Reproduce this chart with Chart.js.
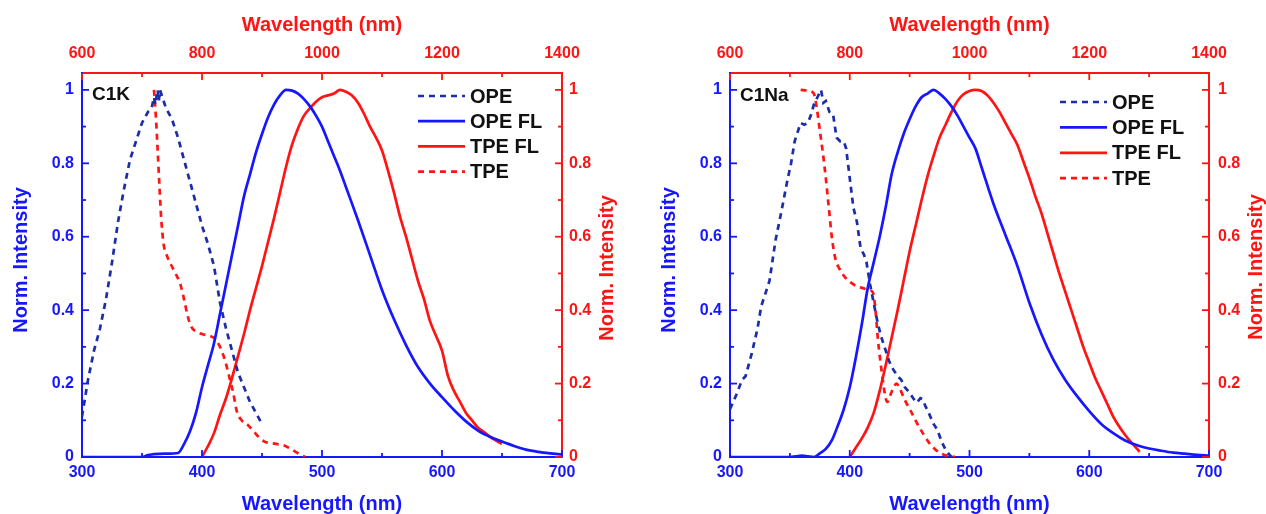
<!DOCTYPE html>
<html>
<head>
<meta charset="utf-8">
<script src="https://cdn.jsdelivr.net/npm/chart.js@4.4.0/dist/chart.umd.min.js"></script>
<style>
  html, body { margin: 0; padding: 0; background: #ffffff; }
  #wrap { position: relative; width: 1266px; height: 514px; overflow: hidden; }
  canvas { position: absolute; top: 0; }
</style>
</head>
<body>
<div id="wrap">
  <canvas id="chartK" width="633" height="514" style="left:0px"></canvas>
  <canvas id="chartNa" width="633" height="514" style="left:633px"></canvas>
</div>
<script>
// ---- Axis ticks -------------------------------------------------------
const bottomTicks = [300, 400, 500, 600, 700];        // one-photon wavelength (nm)
const topTicks = [600, 800, 1000, 1200, 1400];        // two-photon wavelength (nm)
const intensityTicks = [0, 0.2, 0.4, 0.6, 0.8, 1];
const seriesLabels = ['OPE', 'OPE FL', 'TPE FL', 'TPE'];
const panelNames = ['C1K', 'C1Na'];

// ---- C1K ---------------------------------------------------------------
const k_ope_nm = [300,305,310,315,320,325,330,335,340,345,350,355,358,360,361,363,364,365,367,370,375,380,385,390,395,400,405,410,415,420,425,430,435,440,445,450];
const k_ope_int = [0.11,0.21,0.29,0.35,0.43,0.53,0.64,0.73,0.81,0.86,0.91,0.94,0.95,0.98,0.96,1.0,0.97,1.0,0.98,0.95,0.92,0.87,0.81,0.75,0.69,0.63,0.58,0.52,0.42,0.35,0.29,0.23,0.19,0.15,0.12,0.09];

const k_opefl_nm = [300,350,355,360,370,380,385,390,395,400,405,410,415,420,425,430,435,440,445,450,455,460,465,470,475,480,485,490,495,500,505,510,515,520,530,540,550,560,570,580,590,600,610,620,630,640,650,660,670,680,690,700];
const k_opefl_int = [0,0,0.005,0.008,0.009,0.011,0.035,0.07,0.12,0.19,0.25,0.31,0.39,0.47,0.55,0.63,0.71,0.77,0.83,0.88,0.925,0.96,0.985,1.0,0.998,0.99,0.975,0.955,0.93,0.9,0.86,0.82,0.78,0.735,0.645,0.55,0.455,0.375,0.305,0.245,0.2,0.163,0.128,0.097,0.072,0.055,0.042,0.03,0.02,0.014,0.01,0.007];

const k_tpefl_nm = [800,810,820,830,840,850,860,870,880,890,900,910,920,930,940,950,960,970,980,990,1000,1010,1020,1030,1040,1050,1060,1070,1080,1090,1100,1110,1120,1130,1140,1150,1160,1170,1180,1190,1200,1210,1220,1230,1240,1250,1260,1270,1280,1290,1300];
const k_tpefl_int = [0,0.03,0.065,0.115,0.16,0.215,0.275,0.335,0.4,0.46,0.52,0.585,0.65,0.72,0.79,0.85,0.895,0.93,0.95,0.968,0.98,0.985,0.99,1.0,0.995,0.985,0.965,0.935,0.9,0.87,0.835,0.78,0.72,0.655,0.6,0.54,0.48,0.43,0.37,0.33,0.29,0.22,0.18,0.15,0.12,0.1,0.08,0.068,0.055,0.045,0.036];

const k_tpe_nm = [720,723,726,729,732,736,740,748,756,764,770,776,782,790,800,812,822,830,838,846,852,858,866,876,886,896,904,914,926,936,946,956,966,972];
const k_tpe_int = [1.0,0.93,0.84,0.74,0.65,0.58,0.555,0.525,0.5,0.47,0.43,0.385,0.355,0.342,0.335,0.33,0.322,0.3,0.265,0.215,0.175,0.125,0.1,0.088,0.07,0.052,0.042,0.038,0.035,0.032,0.024,0.014,0.005,0];

// ---- C1Na --------------------------------------------------------------
const na_ope_nm = [300,306,310,313,318,323,326,330,333,338,343,348,351,354,357,359,362,365,368,370,373,376,378,380,383,386,389,392,395,397,400,403,406,409,412,414,417,420,423,426,430,433,436,440,443,446,450,453,456,459,461,463,466,470,473,477,480,483,485];
const na_ope_int = [0.13,0.175,0.21,0.22,0.28,0.35,0.41,0.45,0.48,0.59,0.67,0.755,0.8,0.86,0.89,0.91,0.905,0.91,0.935,0.96,0.98,1.0,0.965,0.97,0.94,0.935,0.87,0.86,0.86,0.84,0.76,0.68,0.64,0.57,0.55,0.53,0.47,0.42,0.37,0.33,0.29,0.26,0.24,0.22,0.21,0.19,0.175,0.16,0.148,0.16,0.157,0.14,0.12,0.09,0.075,0.04,0.02,0.007,0];

const na_opefl_nm = [300,350,355,360,365,370,375,380,385,390,395,400,405,410,415,420,425,430,435,440,445,450,455,460,465,470,475,480,485,490,495,500,505,510,520,530,540,550,560,570,580,590,600,610,620,630,640,650,660,670,680,690,700];
const na_opefl_int = [0,0,0.002,0.004,0.002,0,0.01,0.022,0.045,0.085,0.13,0.19,0.27,0.36,0.46,0.53,0.6,0.68,0.77,0.83,0.88,0.92,0.955,0.98,0.99,1.0,0.99,0.975,0.955,0.93,0.9,0.87,0.84,0.79,0.69,0.605,0.52,0.42,0.335,0.265,0.21,0.165,0.125,0.09,0.065,0.045,0.032,0.023,0.017,0.012,0.009,0.006,0.004];

const na_tpefl_nm = [800,810,820,830,840,850,860,870,880,890,900,910,920,930,940,950,960,970,980,990,1000,1010,1020,1030,1040,1050,1060,1070,1080,1090,1100,1110,1120,1130,1140,1150,1160,1170,1180,1190,1200,1210,1220,1230,1240,1250,1260,1270,1280,1284];
const na_tpefl_int = [0,0.025,0.05,0.08,0.12,0.18,0.25,0.325,0.4,0.48,0.56,0.63,0.7,0.765,0.82,0.87,0.905,0.94,0.97,0.988,0.997,1.0,0.997,0.985,0.965,0.94,0.91,0.88,0.85,0.805,0.76,0.71,0.665,0.61,0.555,0.5,0.45,0.4,0.35,0.3,0.257,0.215,0.18,0.145,0.11,0.083,0.06,0.04,0.022,0.014];

const na_tpe_nm = [718,730,740,745,750,755,760,765,770,776,782,792,802,812,822,832,839,843,846,849,852,856,860,863,867,872,878,884,892,902,912,922,932,942,952,964,976];
const na_tpe_int = [1.0,0.998,0.99,0.95,0.89,0.83,0.76,0.68,0.6,0.54,0.515,0.49,0.475,0.465,0.46,0.455,0.447,0.4,0.34,0.29,0.25,0.2,0.16,0.15,0.165,0.185,0.2,0.185,0.155,0.125,0.093,0.065,0.04,0.022,0.01,0.003,0];

// ---- Styling -------------------------------------------------------------
const BLUE = '#1717ff';
const NAVY = '#1c2da8';
const RED = '#ff1414';
const FONT = "'Liberation Sans', Arial, Helvetica, sans-serif";
const DASH = [6, 5];
const LW = 2.7;

function pts(xs, ys) { return xs.map((x, i) => ({ x: x, y: ys[i] })); }
function fmtIntensity(v) { return String(Math.round(v * 10) / 10); }
function fmtWavelength(v) { return String(v); }

// Origin-style tick marks pointing into the plot area
const inwardTicks = {
  id: 'inwardTicks',
  afterDraw(chart, args, opts) {
    const ctx = chart.ctx, a = chart.chartArea;
    ctx.save();
    ctx.lineWidth = 1.8;
    opts.axes.forEach(ax => {
      const s = chart.scales[ax.id];
      ctx.strokeStyle = ax.color;
      for (let i = 0; ; i++) {
        const v = s.min + i * ax.minor;
        if (v > s.max + 1e-9) break;
        const r = v / ax.major;
        const isMajor = Math.abs(r - Math.round(r)) < 1e-6;
        const len = isMajor ? 7 : 4;
        const p = s.getPixelForValue(v);
        ctx.beginPath();
        if (s.position === 'bottom') { ctx.moveTo(p, a.bottom); ctx.lineTo(p, a.bottom - len); }
        else if (s.position === 'top') { ctx.moveTo(p, a.top); ctx.lineTo(p, a.top + len); }
        else if (s.position === 'left') { ctx.moveTo(a.left, p); ctx.lineTo(a.left + len, p); }
        else { ctx.moveTo(a.right, p); ctx.lineTo(a.right - len, p); }
        ctx.stroke();
      }
    });
    ctx.restore();
  }
};

// Legend drawn inside the plot, panel name, and the rotated y-axis titles
const annotations = {
  id: 'annotations',
  afterDraw(chart, args, o) {
    const ctx = chart.ctx;
    ctx.save();
    // legend
    ctx.font = 'bold 20px ' + FONT;
    ctx.textBaseline = 'middle';
    ctx.textAlign = 'left';
    chart.data.datasets.forEach((ds, i) => {
      const y = o.legendY + i * o.legendGap;
      ctx.strokeStyle = ds.borderColor;
      ctx.lineWidth = ds.borderWidth;
      ctx.setLineDash(ds.borderDash || []);
      ctx.beginPath();
      ctx.moveTo(o.legendX, y);
      ctx.lineTo(o.legendX + 47, y);
      ctx.stroke();
      ctx.setLineDash([]);
      ctx.fillStyle = '#111111';
      ctx.fillText(ds.label, o.legendX + 52, y + 1);
    });
    // panel name
    ctx.font = 'bold 19px ' + FONT;
    ctx.fillStyle = '#111111';
    ctx.fillText(o.panel, o.panelX, o.panelY);
    // y titles, both reading bottom to top
    ctx.font = 'bold 20px ' + FONT;
    ctx.textAlign = 'center';
    [[o.leftTitleX, o.leftTitleY, BLUE], [o.rightTitleX, o.rightTitleY, RED]].forEach(t => {
      ctx.save();
      ctx.translate(t[0], t[1]);
      ctx.rotate(-Math.PI / 2);
      ctx.fillStyle = t[2];
      ctx.fillText('Norm. Intensity', 0, 0);
      ctx.restore();
    });
    ctx.restore();
  }
};

function makeChart(canvasId, panel, series, lay) {
  const tickFont = { family: FONT, size: 16, weight: 'bold' };
  const titleFont = { family: FONT, size: 20, weight: 'bold', lineHeight: 1 };
  return new Chart(document.getElementById(canvasId), {
    type: 'line',
    data: {
      datasets: [
        { label: seriesLabels[0], data: pts(series.ope[0], series.ope[1]), xAxisID: 'xb', yAxisID: 'yl',
          borderColor: NAVY, borderWidth: LW, borderDash: DASH, pointRadius: 0, tension: 0 },
        { label: seriesLabels[1], data: pts(series.opefl[0], series.opefl[1]), xAxisID: 'xb', yAxisID: 'yl',
          borderColor: BLUE, borderWidth: LW, pointRadius: 0, cubicInterpolationMode: 'monotone' },
        { label: seriesLabels[2], data: pts(series.tpefl[0], series.tpefl[1]), xAxisID: 'xt', yAxisID: 'yr',
          borderColor: RED, borderWidth: LW, pointRadius: 0, cubicInterpolationMode: 'monotone' },
        { label: seriesLabels[3], data: pts(series.tpe[0], series.tpe[1]), xAxisID: 'xt', yAxisID: 'yr',
          borderColor: RED, borderWidth: LW, borderDash: DASH, pointRadius: 0, cubicInterpolationMode: 'monotone' }
      ]
    },
    options: {
      responsive: false,
      devicePixelRatio: 1,
      animation: false,
      events: [],
      layout: { padding: 0 },
      plugins: {
        legend: { display: false },
        tooltip: { enabled: false },
        inwardTicks: {
          axes: [
            { id: 'xb', major: 100, minor: 50, color: BLUE },
            { id: 'xt', major: 200, minor: 100, color: RED },
            { id: 'yl', major: 0.2, minor: 0.1, color: BLUE },
            { id: 'yr', major: 0.2, minor: 0.1, color: RED }
          ]
        },
        annotations: Object.assign({ panel: panel }, lay.notes)
      },
      scales: {
        xb: {
          type: 'linear', position: 'bottom', min: 300, max: 700,
          afterBuildTicks: s => { s.ticks = bottomTicks.map(v => ({ value: v })); },
          afterFit: s => { s.height = 57; },
          ticks: { color: BLUE, font: tickFont, padding: 6, maxRotation: 0, autoSkip: false, callback: fmtWavelength },
          grid: { drawOnChartArea: false, drawTicks: false, color: BLUE },
          border: { display: true, color: BLUE, width: 2 },
          title: { display: true, text: 'Wavelength (nm)', color: BLUE, font: titleFont, padding: { top: 0, bottom: 0 } }
        },
        xt: {
          type: 'linear', position: 'top', min: 600, max: 1400,
          afterBuildTicks: s => { s.ticks = topTicks.map(v => ({ value: v })); },
          afterFit: s => { s.height = 73; },
          ticks: { color: RED, font: tickFont, padding: 10, maxRotation: 0, autoSkip: false, callback: fmtWavelength },
          grid: { drawOnChartArea: false, drawTicks: false, color: RED },
          border: { display: true, color: RED, width: 2 },
          title: { display: true, text: 'Wavelength (nm)', color: RED, font: titleFont, padding: { top: 15, bottom: 0 } }
        },
        yl: {
          type: 'linear', position: 'left', min: 0, max: 1.046,
          afterBuildTicks: s => { s.ticks = intensityTicks.map(v => ({ value: v })); },
          afterFit: s => { s.width = lay.leftW; },
          ticks: { color: BLUE, font: tickFont, padding: lay.leftPad, callback: fmtIntensity },
          grid: { drawOnChartArea: false, drawTicks: false, color: BLUE },
          border: { display: true, color: BLUE, width: 2 }
        },
        yr: {
          type: 'linear', position: 'right', min: 0, max: 1.046,
          afterBuildTicks: s => { s.ticks = intensityTicks.map(v => ({ value: v })); },
          afterFit: s => { s.width = lay.rightW; },
          ticks: { color: RED, font: tickFont, padding: lay.rightPad, callback: fmtIntensity },
          grid: { drawOnChartArea: false, drawTicks: false, color: RED },
          border: { display: true, color: RED, width: 2 }
        }
      }
    },
    plugins: [inwardTicks, annotations]
  });
}

makeChart('chartK', panelNames[0], {
  ope: [k_ope_nm, k_ope_int], opefl: [k_opefl_nm, k_opefl_int],
  tpefl: [k_tpefl_nm, k_tpefl_int], tpe: [k_tpe_nm, k_tpe_int]
}, {
  leftW: 82, rightW: 71, leftPad: 8, rightPad: 7,
  notes: { legendX: 418, legendY: 96, legendGap: 25.2, panelX: 92, panelY: 95,
           leftTitleX: 21, leftTitleY: 260, rightTitleX: 607, rightTitleY: 268 }
});

makeChart('chartNa', panelNames[1], {
  ope: [na_ope_nm, na_ope_int], opefl: [na_opefl_nm, na_opefl_int],
  tpefl: [na_tpefl_nm, na_tpefl_int], tpe: [na_tpe_nm, na_tpe_int]
}, {
  leftW: 97, rightW: 57, leftPad: 8, rightPad: 9,
  notes: { legendX: 427, legendY: 102, legendGap: 25.4, panelX: 107, panelY: 96,
           leftTitleX: 36, leftTitleY: 260, rightTitleX: 623, rightTitleY: 267 }
});
</script>
</body>
</html>
